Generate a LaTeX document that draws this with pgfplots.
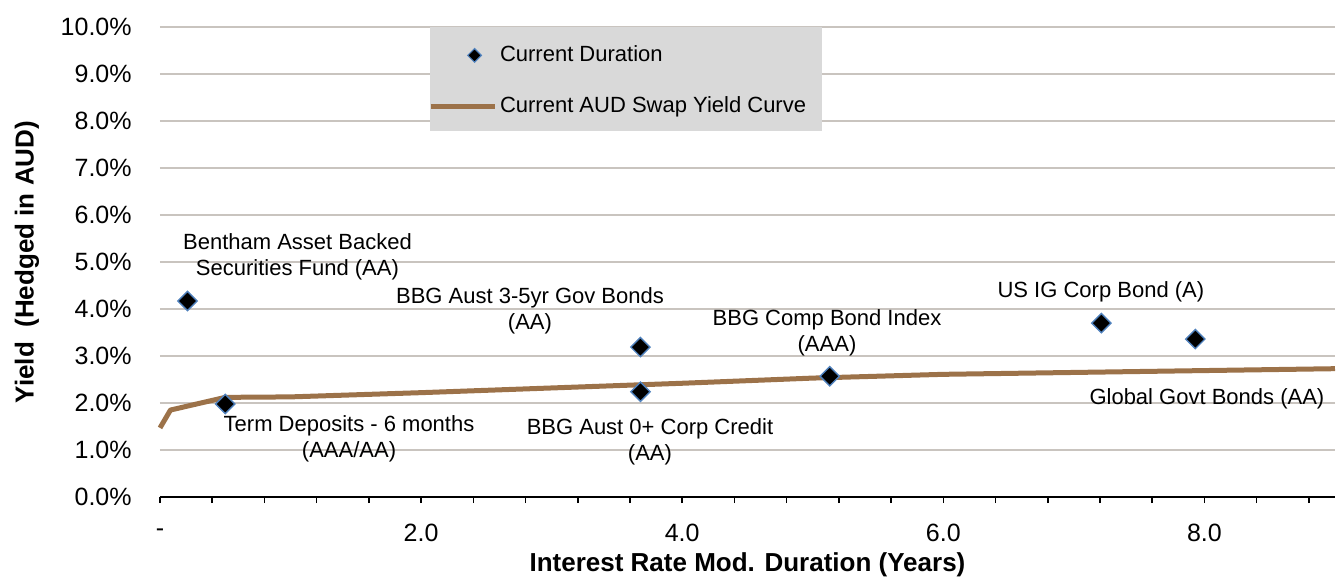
\documentclass[border=0pt]{standalone}
\usepackage{fontspec}
\setmainfont{Liberation Sans}
\usepackage{pgfplots}
\pgfplotsset{compat=1.18}
\definecolor{gridc}{HTML}{C9C4BF}
\definecolor{curvec}{HTML}{9C7249}
\definecolor{legbg}{HTML}{D9D9D9}
\definecolor{markedge}{HTML}{4F81BD}
\begin{document}
\begin{tikzpicture}
\begin{axis}[
  name=ax, at={(0,0)}, anchor=south west,
  scale only axis, width=587.5pt, height=235pt,
  xmin=0, xmax=9, ymin=0, ymax=10,
  axis x line=bottom, axis y line=left,
  x axis line style={-, line width=1pt, black},
  y axis line style={draw=none},
  xtick={0,2,4,6,8},
  xticklabels={-,2.0,4.0,6.0,8.0},
  minor xtick={0.4,0.8,1.2,1.6,2.4,2.8,3.2,3.6,4.4,4.8,5.2,5.6,6.4,6.8,7.2,7.6,8.4,8.8},
  tick align=outside,
  major tick length=3pt, minor tick length=3pt,
  xtick style={line width=0.8pt, black},
  minor tick style={line width=0.8pt, black},
  ytick={0,1,...,10},
  ytick style={draw=none},
  yticklabel={\pgfmathprintnumber[fixed,fixed zerofill,precision=1]{\tick}\%},
  ymajorgrids,
  major grid style={gridc, line width=1pt},
  /pgf/number format/assume math mode=true,
  ticklabel style={font=\fontsize{12.5}{14}\selectfont},
  yticklabel style={anchor=east, inner sep=0pt, xshift=-11pt},
  xticklabel style={anchor=center, inner sep=0pt, yshift=-15pt},
  xlabel={Interest Rate Mod. Duration (Years)},
  ylabel={Yield\ \ (Hedged in AUD)},
  label style={font=\fontsize{13}{15}\bfseries\selectfont},
  xlabel style={at={(axis description cs:0.5,-0.1447)}, anchor=center},
  ylabel style={at={(axis description cs:-0.1132,0.5)}, anchor=center},
  clip=false,
  legend style={at={(axis cs:2.05,9.67)}, anchor=north west, draw=none, fill=none,
    inner sep=0pt, row sep=13pt, font=\fontsize{11}{13}\selectfont,
    nodes={inner sep=1.5pt}},
  legend cell align=left,
]
\fill[legbg] (axis cs:2.068,7.79) rectangle (axis cs:5.07,10);
\addplot[only marks, mark=square*, mark size=3.4pt, mark options={rotate=45, fill=black, draw=markedge, line width=0.7pt},
  legend image code/.code={\draw[mark=square*, mark size=2.4pt, mark options={rotate=45, fill=black, draw=markedge, line width=0.6pt}] plot coordinates {(22pt,0pt)};}]
  coordinates {(0.21,4.17) (0.5,1.98) (3.68,3.19) (3.68,2.24) (5.13,2.57) (7.21,3.70) (7.93,3.36)};
\addlegendentry{Current Duration}
\addplot[curvec, line width=2.5pt, line join=round,
  legend image code/.code={\draw[curvec, line width=2.5pt] (0pt,0pt) -- (32pt,0pt);}]
  coordinates {(0,1.47) (0.08,1.85) (0.5,2.12) (1,2.13) (2,2.22) (3,2.32) (4,2.42) (5,2.53) (6,2.61) (7,2.65) (8,2.69) (9,2.73)};
\addlegendentry{Current AUD Swap Yield Curve}
\begin{scope}[every node/.style={font=\fontsize{11}{13}\selectfont, align=center, inner sep=0pt}]
\node at (axis cs:1.053,5.11) {Bentham Asset Backed\\Securities Fund (AA)};
\node at (axis cs:2.834,3.96) {BBG Aust 3-5yr Gov Bonds\\(AA)};
\node at (axis cs:5.109,3.49) {BBG Comp Bond Index\\(AAA)};
\node at (axis cs:7.207,4.36) {US IG Corp Bond (A)};
\node at (axis cs:8.019,2.085) {Global Govt Bonds (AA)};
\node at (axis cs:1.448,1.245) {Term Deposits - 6 months\\(AAA/AA)};
\node at (axis cs:3.753,1.18) {BBG Aust 0+ Corp Credit\\(AA)};
\end{scope}
\end{axis}
\pgfresetboundingbox
\useasboundingbox (-80pt,-41pt) rectangle (590pt,248.5pt);
\end{tikzpicture}
\end{document}
